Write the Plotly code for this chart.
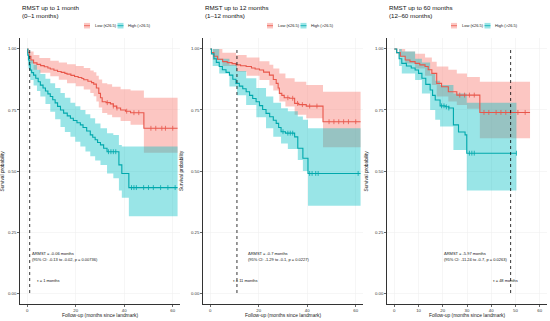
import numpy as np
import plotly.graph_objects as go

W, H = 550, 321

# ---------------- data ----------------
panel_titles = ["RMST up to 1 month<br>(0–1 months)",
                "RMST up to 12 months<br>(1–12 months)",
                "RMST up to 60 months<br>(12–60 months)"]
tau_values = [1, 11, 48]
tau_labels = ["τ = 1 months", "τ = 11 months", "τ = 48 months"]
drmst_line1 = ["ΔRMST = -0.06 months", "ΔRMST = -0.7 months", "ΔRMST = -5.97 months"]
drmst_line2 = ["(95% CI: -0.13 to -0.02, p = 0.00736)",
               "(95% CI: -1.29 to -0.1, p = 0.0227)",
               "(95% CI: -11.24 to -0.7, p = 0.0263)"]
group_labels = ["Low (≤26.5)", "High (>26.5)"]
x_tick_step = [20, 20, 10]

# Panel 1 (0-1 months)
p1_low_t = [0, 0.3, 0.8, 1.5, 2.6, 4, 5.5, 7, 8.5, 9.5, 11, 12.5, 14, 15.5, 16.4, 18, 19.5, 21, 22.5, 23.3, 25,
            26.5, 27.4, 28.5, 29.5, 30.2, 30.9, 32.5, 34.3, 35.5, 36.8, 38.5, 40.5, 42.6, 48.1, 62]
p1_low_s = [1.0, 0.985, 0.97, 0.955, 0.943, 0.937, 0.932, 0.927, 0.922, 0.918, 0.913, 0.908, 0.904, 0.900, 0.897,
            0.892, 0.887, 0.883, 0.879, 0.874, 0.868, 0.862, 0.856, 0.84, 0.818, 0.80, 0.784, 0.78, 0.775, 0.766,
            0.758, 0.75, 0.745, 0.739, 0.675, 0.675]
p1_low_band_t = [0, 1, 2.6, 5, 9.5, 13, 16.4, 20, 23.3, 26, 27.4, 28.5, 29.5, 30.9, 33, 35, 38.5, 42.6, 48.1, 62]
p1_low_up = [1.0, 0.99, 0.975, 0.963, 0.952, 0.945, 0.937, 0.93, 0.922, 0.912, 0.905, 0.89, 0.875, 0.86, 0.855,
             0.845, 0.835, 0.83, 0.80, 0.80]
p1_low_lo = [1.0, 0.94, 0.915, 0.903, 0.888, 0.874, 0.86, 0.847, 0.834, 0.82, 0.806, 0.785, 0.76, 0.738, 0.73,
             0.72, 0.705, 0.69, 0.575, 0.575]
p1_low_cens = [33, 35.5, 37, 41, 44, 46, 51, 53, 55.5, 57, 60]

p1_high_t = [0, 0.2, 0.5, 0.8, 1.2, 1.8, 2.6, 3.5, 4.5, 5.4, 6.5, 7.5, 8.5, 9.5, 10.5, 11.5, 12.5, 13.7, 15, 16.5,
             17.8, 19, 20.5, 21.9, 23, 24.5, 26, 27, 28, 29, 30.2, 31.5, 32.9, 37.8, 39, 41.9, 62]
p1_high_s = [1.0, 0.975, 0.955, 0.935, 0.914, 0.903, 0.893, 0.88, 0.866, 0.852, 0.84, 0.828, 0.816, 0.805, 0.792,
             0.779, 0.765, 0.75, 0.737, 0.726, 0.716, 0.707, 0.698, 0.689, 0.678, 0.664, 0.648, 0.638, 0.628, 0.617,
             0.607, 0.593, 0.579, 0.525, 0.49, 0.432, 0.432]
p1_high_band_t = [0, 0.5, 1.2, 2.6, 4, 5.4, 7.5, 9.5, 11.5, 13.7, 15.5, 17.8, 19.8, 21.9, 24, 26, 28, 30.2, 32.9,
                  35.5, 37.8, 39, 41.9, 62]
p1_high_up = [1.0, 0.99, 0.955, 0.935, 0.915, 0.897, 0.878, 0.86, 0.84, 0.82, 0.80, 0.78, 0.765, 0.75, 0.733, 0.716,
              0.695, 0.675, 0.655, 0.648, 0.607, 0.60, 0.60, 0.60]
p1_high_lo = [1.0, 0.92, 0.873, 0.85, 0.828, 0.805, 0.775, 0.743, 0.712, 0.68, 0.66, 0.64, 0.62, 0.60, 0.58, 0.56,
              0.543, 0.525, 0.49, 0.47, 0.42, 0.39, 0.315, 0.315]
p1_high_cens = [33.5, 34.5, 35.5, 36.5, 43, 44, 45, 48, 50, 52, 55, 58, 61]

# Panel 2 (1-12 months)
p2_low_t = [0, 0.5, 1.5, 3, 5.1, 7, 9, 10.6, 12.5, 14.8, 17, 18.5, 20.3, 22, 24.4, 26, 27.2, 28, 28.5, 29.5, 30.5,
            32.7, 34.8, 36.5, 39.6, 46.5, 62]
p2_low_s = [1.0, 0.985, 0.97, 0.958, 0.948, 0.944, 0.94, 0.935, 0.931, 0.928, 0.922, 0.918, 0.914, 0.905, 0.893,
            0.875, 0.859, 0.84, 0.818, 0.81, 0.80, 0.798, 0.777, 0.772, 0.766, 0.702, 0.702]
p2_low_band_t = [0, 1, 5, 10.6, 15, 20.3, 24.4, 26, 28.5, 31, 34.8, 39.6, 46.5, 62]
p2_low_up = [1.0, 1.0, 0.985, 0.975, 0.965, 0.95, 0.935, 0.92, 0.90, 0.88, 0.866, 0.852, 0.825, 0.825]
p2_low_lo = [1.0, 0.955, 0.93, 0.907, 0.89, 0.873, 0.85, 0.83, 0.785, 0.764, 0.73, 0.716, 0.597, 0.597]
p2_low_cens = [32, 34, 36, 38, 41, 44, 49, 51, 53, 55, 57, 60]

p2_high_t = [0, 0.5, 1.5, 2.5, 3.7, 5, 6.5, 7.9, 9.3, 10.6, 12, 13.4, 14.8, 16.2, 17.5, 18.9, 20.3, 21.6, 23.0,
             24.5, 26, 27.2, 28.2, 29.2, 31, 34.8, 36.1, 38.2, 40.3, 62]
p2_high_s = [1.0, 0.98, 0.96, 0.945, 0.928, 0.915, 0.904, 0.893, 0.876, 0.859, 0.848, 0.837, 0.825, 0.81, 0.797,
             0.784, 0.768, 0.752, 0.736, 0.722, 0.708, 0.695, 0.678, 0.661, 0.655, 0.64, 0.593, 0.552, 0.49, 0.49]
p2_high_band_t = [0, 1, 3.7, 7.9, 11, 14.8, 19, 23, 26, 29.2, 32, 36.1, 38.2, 40.3, 62]
p2_high_up = [1.0, 1.0, 0.96, 0.935, 0.91, 0.88, 0.84, 0.805, 0.78, 0.757, 0.745, 0.723, 0.71, 0.675, 0.675]
p2_high_lo = [1.0, 0.93, 0.9, 0.846, 0.81, 0.77, 0.72, 0.675, 0.64, 0.613, 0.59, 0.545, 0.5, 0.358, 0.358]
p2_high_cens = [30, 32, 33, 34, 41, 42, 43.5, 44.5, 61]

# Panel 3 (12-60 months)
p3_low_t = [0, 1, 2.5, 4.5, 6.5, 8.6, 10.5, 12.7, 14, 15.5, 17.5, 19.5, 22.3, 25.8, 35.3, 56]
p3_low_s = [1.0, 0.985, 0.97, 0.955, 0.948, 0.941, 0.935, 0.928, 0.915, 0.90, 0.859, 0.845, 0.825, 0.811, 0.740, 0.740]
p3_low_band_t = [0, 2, 4.5, 8.6, 12.7, 15.5, 17.5, 22.3, 25.8, 30, 35.3, 56]
p3_low_up = [1.0, 1.0, 0.99, 0.98, 0.965, 0.948, 0.928, 0.915, 0.90, 0.885, 0.866, 0.866]
p3_low_lo = [1.0, 0.97, 0.941, 0.92, 0.89, 0.852, 0.805, 0.785, 0.77, 0.755, 0.634, 0.634]
p3_low_cens = [27, 29, 31, 33, 37, 39, 42, 44, 46, 48, 51, 54]

p3_high_t = [0, 1, 2, 3.1, 5, 7, 8.6, 10, 11.4, 13, 14.8, 15.8, 16.9, 18.9, 21, 22.5, 24.4, 26.5, 29.2, 29.9, 50.4]
p3_high_s = [1.0, 0.985, 0.96, 0.941, 0.93, 0.922, 0.914, 0.9, 0.88, 0.855, 0.832, 0.81, 0.791, 0.767, 0.763, 0.758,
             0.689, 0.66, 0.648, 0.573, 0.573]
p3_high_band_t = [0, 2, 3.1, 8.6, 11.4, 14.8, 16.9, 18.9, 24.4, 29.9, 50.4]
p3_high_up = [1.0, 1.0, 0.99, 0.96, 0.945, 0.90, 0.87, 0.852, 0.818, 0.78, 0.78]
p3_high_lo = [1.0, 0.93, 0.90, 0.873, 0.818, 0.75, 0.71, 0.682, 0.586, 0.42, 0.42]
p3_high_cens = [19.5, 20.5, 21.5, 22.5, 31, 32, 33, 50.4]

panels = [
    dict(low=(p1_low_t, p1_low_s, p1_low_band_t, p1_low_up, p1_low_lo, p1_low_cens),
         high=(p1_high_t, p1_high_s, p1_high_band_t, p1_high_up, p1_high_lo, p1_high_cens)),
    dict(low=(p2_low_t, p2_low_s, p2_low_band_t, p2_low_up, p2_low_lo, p2_low_cens),
         high=(p2_high_t, p2_high_s, p2_high_band_t, p2_high_up, p2_high_lo, p2_high_cens)),
    dict(low=(p3_low_t, p3_low_s, p3_low_band_t, p3_low_up, p3_low_lo, p3_low_cens),
         high=(p3_high_t, p3_high_s, p3_high_band_t, p3_high_up, p3_high_lo, p3_high_cens)),
]

# ---------------- style ----------------
FONT = "Liberation Sans, Arial, Helvetica, sans-serif"
RED_LINE, TEAL_LINE = "#E8574B", "#00A8AC"
RED_FILL, TEAL_FILL = "rgba(248,118,109,0.42)", "rgba(0,191,196,0.40)"
x_domains = [(20, 180), (203, 363), (387, 547)]   # px
y_top_px, y_bot_px = 38, 304

def px2x(p):
    return p / W

def px2y(p):
    return 1 - p / H

fig = go.Figure()

def step_value(times, surv, t):
    i = np.searchsorted(np.asarray(times), t, side="right") - 1
    return float(np.asarray(surv)[i])

for k, pan in enumerate(panels):
    xa = "x" if k == 0 else f"x{k+1}"
    ya = "y" if k == 0 else f"y{k+1}"
    for key, fcol in (("low", RED_FILL), ("high", TEAL_FILL)):
        t, s, bt, up, lo, cens = pan[key]
        fig.add_trace(go.Scatter(x=bt, y=lo, mode="lines", line=dict(width=0, shape="hv"),
                                 hoverinfo="skip", showlegend=False, xaxis=xa, yaxis=ya))
        fig.add_trace(go.Scatter(x=bt, y=up, mode="lines", line=dict(width=0, shape="hv"),
                                 fill="tonexty", fillcolor=fcol, hoverinfo="skip",
                                 showlegend=False, xaxis=xa, yaxis=ya))
    for key, lcol in (("low", RED_LINE), ("high", TEAL_LINE)):
        t, s, bt, up, lo, cens = pan[key]
        fig.add_trace(go.Scatter(x=t, y=s, mode="lines", line=dict(color=lcol, width=1.1, shape="hv"),
                                 showlegend=False, xaxis=xa, yaxis=ya))
        cy = [step_value(t, s, c) for c in cens]
        fig.add_trace(go.Scatter(x=cens, y=cy, mode="markers",
                                 marker=dict(symbol="line-ns-open", size=3.5, color=lcol,
                                             line=dict(color=lcol, width=0.8)),
                                 showlegend=False, xaxis=xa, yaxis=ya))

layout = dict(width=W, height=H, margin=dict(l=0, r=0, t=0, b=0), autosize=False,
              paper_bgcolor="white", plot_bgcolor="white", font=dict(family=FONT, color="#222"),
              showlegend=False)
for k in range(3):
    xs = "xaxis" if k == 0 else f"xaxis{k+1}"
    ys = "yaxis" if k == 0 else f"yaxis{k+1}"
    a, b = x_domains[k]
    layout[xs] = dict(domain=[px2x(a), px2x(b)], range=[-3, 63], anchor="y" if k == 0 else f"y{k+1}",
                      tickmode="linear", tick0=0, dtick=x_tick_step[k],
                      showline=True, linecolor="black", linewidth=0.8, ticks="outside", ticklen=2,
                      tickwidth=0.6, tickcolor="black", tickfont=dict(size=4.3, color="#333"),
                      showgrid=True, gridcolor="#EEEEEE", gridwidth=0.5, zeroline=False)
    layout[ys] = dict(domain=[px2y(y_bot_px), px2y(y_top_px)], range=[-0.045, 1.045],
                      anchor="x" if k == 0 else f"x{k+1}",
                      tickvals=[0, 0.25, 0.5, 0.75, 1.0], ticktext=["0.00", "0.25", "0.50", "0.75", "1.00"],
                      showline=True, linecolor="black", linewidth=0.8, ticks="outside", ticklen=2,
                      tickwidth=0.6, tickcolor="black", tickfont=dict(size=4.3, color="#333"),
                      showgrid=True, gridcolor="#EEEEEE", gridwidth=0.5, zeroline=False)
fig.update_layout(**layout)

shapes, annots = [], []
for k in range(3):
    xr = "x" if k == 0 else f"x{k+1}"
    yr = "y" if k == 0 else f"y{k+1}"
    a, b = x_domains[k]
    shapes.append(dict(type="line", xref=xr, yref=yr, x0=tau_values[k], x1=tau_values[k], y0=0, y1=1,
                       line=dict(color="black", width=0.8, dash="dot")))
    annots.append(dict(xref="paper", yref="paper", x=px2x(a), y=px2y(2), xanchor="left", yanchor="top",
                       text=panel_titles[k], showarrow=False, align="left",
                       font=dict(size=6.2, color="#111")))
    ly = 25.7
    for j, (fc, lc) in enumerate(((RED_FILL, RED_LINE), (TEAL_FILL, TEAL_LINE))):
        sx0 = a + (64 if j == 0 else 97.5)
        shapes.append(dict(type="rect", xref="paper", yref="paper", x0=px2x(sx0), x1=px2x(sx0 + 6),
                           y0=px2y(ly + 2.8), y1=px2y(ly - 2.8), fillcolor=fc, line=dict(width=0)))
        shapes.append(dict(type="line", xref="paper", yref="paper", x0=px2x(sx0), x1=px2x(sx0 + 6),
                           y0=px2y(ly), y1=px2y(ly), line=dict(color=lc, width=0.8)))
        annots.append(dict(xref="paper", yref="paper", x=px2x(sx0 + 8.5), y=px2y(ly), xanchor="left",
                           yanchor="middle", text=group_labels[j], showarrow=False,
                           font=dict(size=4.0, color="#222")))
    ytx = [2.5, 182, 366.5][k]
    annots.append(dict(xref="paper", yref="paper", x=px2x(ytx), y=px2y(171), textangle=-90,
                       xanchor="center", yanchor="middle", text="Survival probability", showarrow=False,
                       font=dict(size=4.8, color="#222")))
    annots.append(dict(xref="paper", yref="paper", x=px2x((a + b) / 2), y=px2y(315.5), xanchor="center",
                       yanchor="middle", text="Follow-up (months since landmark)", showarrow=False,
                       font=dict(size=4.9, color="#222")))
    dx = [1.2, 14.9, 19.7][k]
    annots.append(dict(xref=xr, yref=yr, x=dx, y=0.164, xanchor="left", yanchor="middle",
                       text=drmst_line1[k], showarrow=False, font=dict(size=4.0, color="#111")))
    annots.append(dict(xref=xr, yref=yr, x=dx, y=0.139, xanchor="left", yanchor="middle",
                       text=drmst_line2[k], showarrow=False, font=dict(size=4.0, color="#111")))
    tx = [3.3, 8.7, 39.9][k]
    annots.append(dict(xref=xr, yref=yr, x=tx, y=0.05, xanchor="left", yanchor="middle",
                       text=tau_labels[k], showarrow=False, font=dict(size=4.0, color="#111")))

fig.update_layout(shapes=shapes, annotations=annots)
fig.write_html("out.html", config={"displayModeBar": False, "staticPlot": True},
               post_script="document.body.style.margin='0';document.body.style.overflow='hidden';")
